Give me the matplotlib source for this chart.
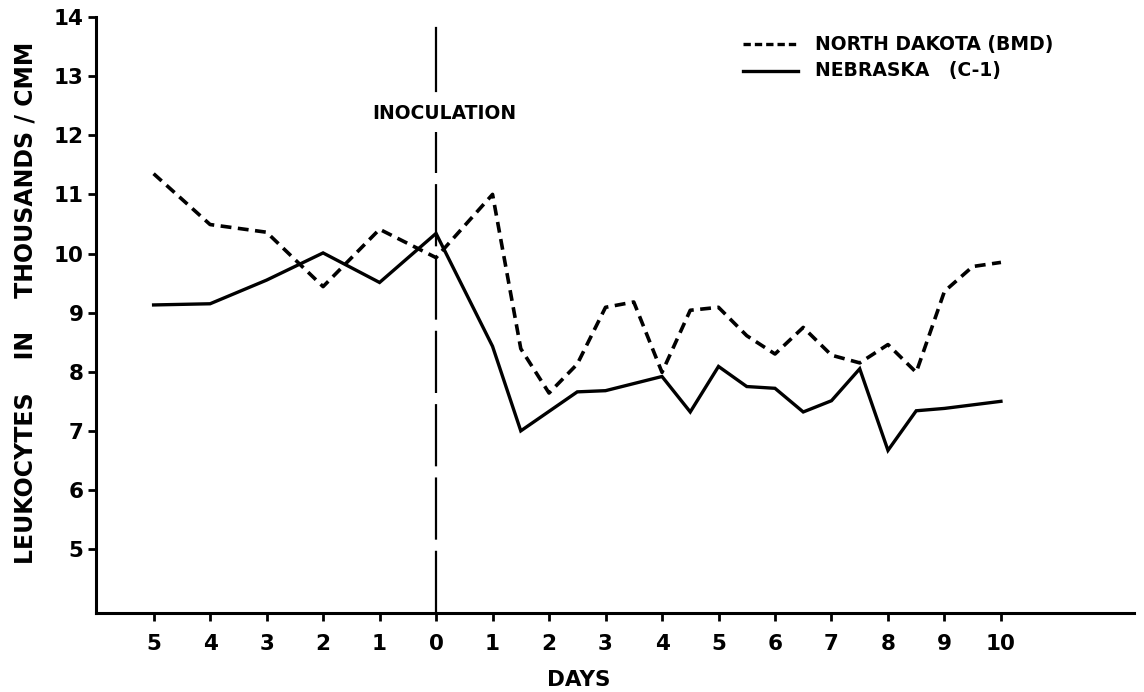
import matplotlib
matplotlib.use("Agg")
import matplotlib.pyplot as plt

# Days relative to inoculation (negative = before)
nd_days = [-5, -4, -3, -2, -1, 0, 1, 1.5, 2, 2.5, 3, 3.5, 4, 4.5, 5, 5.5, 6, 6.5, 7, 7.5, 8, 8.5, 9, 9.5, 10]
nd_vals = [11.35, 10.49, 10.36, 9.44, 10.41, 9.93, 11.0, 8.39, 7.64, 8.13, 9.09, 9.18, 7.99, 9.04, 9.09, 8.61,
           8.30, 8.75, 8.28, 8.15, 8.46, 7.99, 9.36, 9.78, 9.85]

ne_days = [-5, -4, -3, -2, -1, 0, 1, 1.5, 2.5, 3, 4, 4.5, 5, 5.5, 6, 6.5, 7, 7.5, 8, 8.5, 9, 10]
ne_vals = [9.13, 9.15, 9.55, 10.01, 9.51, 10.34, 8.43, 7.0, 7.66, 7.68, 7.92, 7.32, 8.09, 7.75, 7.72, 7.32,
           7.51, 8.05, 6.67, 7.34, 7.38, 7.5]

x_ticks = list(range(-5, 11))
x_labels = ["5", "4", "3", "2", "1", "0", "1", "2", "3", "4", "5", "6", "7", "8", "9", "10"]
y_ticks = [5, 6, 7, 8, 9, 10, 11, 12, 13, 14]

plt.rcParams['font.family'] = ['DejaVu Sans']
plt.rcParams['font.weight'] = 'bold'

fig = plt.figure(figsize=(11.44, 6.92), dpi=100)
ax = fig.add_axes([0.0839, 0.1142, 0.9071, 0.8612])

ax.plot(nd_days, nd_vals, color='black', lw=2.6, linestyle=(0, (3.0, 1.8)), solid_capstyle='butt')
ax.plot(ne_days, ne_vals, color='black', lw=2.4, solid_joinstyle='miter')

# inoculation line
ax.plot([0, 0], [3.92, 12.05], color='black', lw=1.6, linestyle=(0, (28, 5)))
ax.plot([0, 0], [12.75, 13.82], color='black', lw=1.6)
ax.text(0.15, 12.36, "INOCULATION", ha='center', va='center', fontsize=13.5, fontweight='bold')

# legend
ax.plot([5.43, 6.4], [13.54, 13.54], color='black', lw=2.4, linestyle=(0, (2.2, 1.2)))
ax.plot([5.43, 6.4], [13.09, 13.09], color='black', lw=2.4)
ax.text(6.7, 13.54, "NORTH DAKOTA (BMD)", ha='left', va='center', fontsize=13.5, fontweight='bold')
ax.text(6.7, 13.09, "NEBRASKA   (C-1)", ha='left', va='center', fontsize=13.5, fontweight='bold')

ax.set_xlim(-6.02, 12.35)
ax.set_ylim(3.92, 14.0)
ax.set_xticks(x_ticks)
ax.set_xticklabels(x_labels)
ax.set_yticks(y_ticks)
ax.tick_params(axis='both', direction='out', length=6, width=2, labelsize=15.5)
ax.tick_params(axis='x', pad=9)
ax.tick_params(axis='y', pad=3)
for lab in ax.get_xticklabels() + ax.get_yticklabels():
    lab.set_fontweight('bold')

ax.spines['top'].set_visible(False)
ax.spines['right'].set_visible(False)
ax.spines['left'].set_linewidth(2.2)
ax.spines['bottom'].set_linewidth(2.2)

ax.text(2.53, 3.92 - 1.13, "DAYS", ha='center', va='center', fontsize=15.5, fontweight='bold')
fig.text(0.022, 0.563, "LEUKOCYTES    IN    THOUSANDS / CMM", rotation=90, ha='center', va='center',
         fontsize=17, fontweight='bold')

fig.savefig("out.png", dpi=100)
